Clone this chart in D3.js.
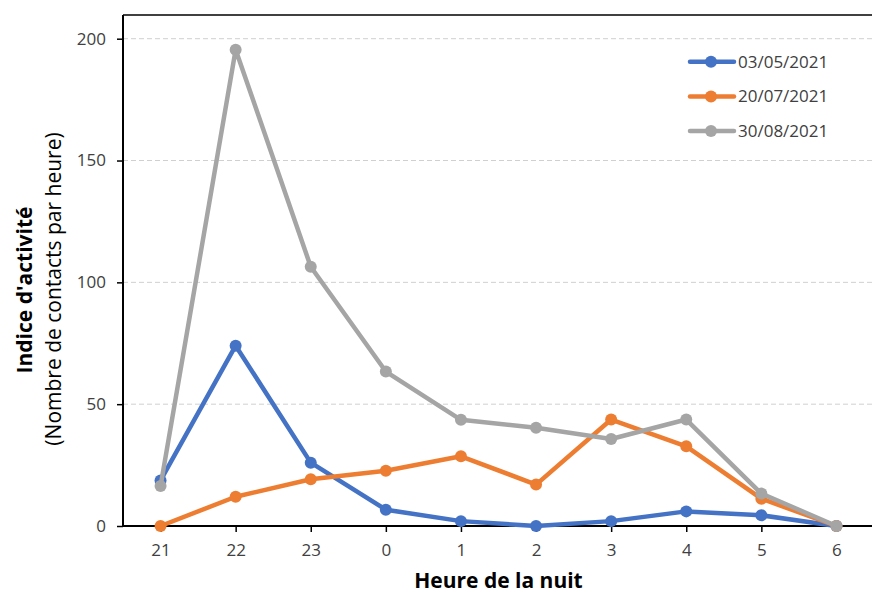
<html>
<head>
<meta charset="utf-8">
<script src="https://cdn.jsdelivr.net/npm/d3@7"></script>
<style>
  body { margin: 0; background: #fff; }
  text { font-family: "Open Sans", "Liberation Sans", sans-serif; }
</style>
</head>
<body>
<script>
// data
var hours = ["21", "22", "23", "0", "1", "2", "3", "4", "5", "6"];
var seriesNames = ["03/05/2021", "20/07/2021", "30/08/2021"];
var v0305 = [18.7, 74, 26, 6.7, 2, 0, 2, 6, 4.4, 0];
var v2007 = [0, 12, 19.2, 22.7, 28.6, 17, 43.7, 32.7, 11.2, 0];
var v3008 = [16.4, 195.5, 106.4, 63.4, 43.6, 40.3, 35.7, 43.7, 13.3, 0];
var yTicks = [0, 50, 100, 150, 200];
var colors = ["#4472C4", "#ED7D31", "#A5A5A5"];

var width = 872, height = 592;
var pLeft = 123, pRight = 874, pTop = 15, pBottom = 526;

var svg = d3.select("body").append("svg")
    .attr("width", width)
    .attr("height", height);

var x = d3.scalePoint().domain(hours).range([pLeft, pRight]).padding(0.5);
var y = d3.scaleLinear().domain([0, 200]).range([pBottom, 38.7]);

// grid
svg.append("g").selectAll("line")
    .data(yTicks.filter(d => d > 0))
    .join("line")
    .attr("x1", pLeft).attr("x2", pRight)
    .attr("y1", d => y(d)).attr("y2", d => y(d))
    .attr("stroke", "#d0d0d0")
    .attr("stroke-width", 1)
    .attr("stroke-dasharray", "5,3");

// top border
svg.append("line")
    .attr("x1", pLeft).attr("x2", pRight)
    .attr("y1", pTop).attr("y2", pTop)
    .attr("stroke", "#000").attr("stroke-width", 1.5);

// y axis
var yAxis = svg.append("g")
    .attr("transform", "translate(" + pLeft + ",0)")
    .call(d3.axisLeft(y).tickValues(yTicks).tickSize(6).tickPadding(11));
yAxis.select(".domain").attr("stroke", "#000").attr("stroke-width", 2)
    .attr("d", "M0," + pTop + "V" + pBottom);
yAxis.selectAll(".tick line").attr("stroke", "#000").attr("stroke-width", 1.5);
yAxis.selectAll(".tick text").attr("font-size", 17).attr("fill", "#404040")
    .style("font-family", "'Open Sans', sans-serif");

// x axis
var xAxis = svg.append("g")
    .attr("transform", "translate(0," + pBottom + ")")
    .call(d3.axisBottom(x).tickSize(6).tickPadding(12));
xAxis.select(".domain").attr("stroke", "#000").attr("stroke-width", 2)
    .attr("d", "M" + pLeft + ",0H" + pRight);
xAxis.selectAll(".tick line").attr("stroke", "#000").attr("stroke-width", 1.5);
xAxis.selectAll(".tick text").attr("font-size", 17).attr("fill", "#404040")
    .style("font-family", "'Open Sans', sans-serif");

// series
var allSeries = [v0305, v2007, v3008];
var line = d3.line().x((d, i) => x(hours[i])).y(d => y(d));

allSeries.forEach(function(vals, k) {
    var g = svg.append("g");
    g.append("path")
        .datum(vals)
        .attr("fill", "none")
        .attr("stroke", colors[k])
        .attr("stroke-width", 4.5)
        .attr("stroke-linejoin", "round")
        .attr("d", line);
    g.selectAll("circle")
        .data(vals)
        .join("circle")
        .attr("cx", (d, i) => x(hours[i]))
        .attr("cy", d => y(d))
        .attr("r", 6)
        .attr("fill", colors[k]);
});

// legend
var legend = svg.append("g");
seriesNames.forEach(function(name, k) {
    var ly = 61.7 + k * 34.7;
    legend.append("line")
        .attr("x1", 690).attr("x2", 734)
        .attr("y1", ly).attr("y2", ly)
        .attr("stroke", colors[k]).attr("stroke-width", 4.5)
        .attr("stroke-linecap", "round");
    legend.append("circle")
        .attr("cx", 711).attr("cy", ly).attr("r", 6)
        .attr("fill", colors[k]);
    legend.append("text")
        .attr("x", 738).attr("y", ly)
        .attr("dy", "0.35em")
        .attr("font-size", 17)
        .attr("fill", "#404040")
        .text(name);
});

// axis titles
svg.append("text")
    .attr("transform", "translate(32,290) rotate(-90)")
    .attr("text-anchor", "middle")
    .attr("font-size", 21)
    .attr("font-weight", "bold")
    .attr("fill", "#000")
    .text("Indice d'activité");
svg.append("text")
    .attr("transform", "translate(61,289) rotate(-90)")
    .attr("text-anchor", "middle")
    .attr("font-size", 21)
    .attr("fill", "#000")
    .text("(Nombre de contacts par heure)");
svg.append("text")
    .attr("x", (pLeft + pRight) / 2)
    .attr("y", 588)
    .attr("text-anchor", "middle")
    .attr("font-size", 21)
    .attr("font-weight", "bold")
    .attr("fill", "#000")
    .text("Heure de la nuit");
</script>
</body>
</html>
